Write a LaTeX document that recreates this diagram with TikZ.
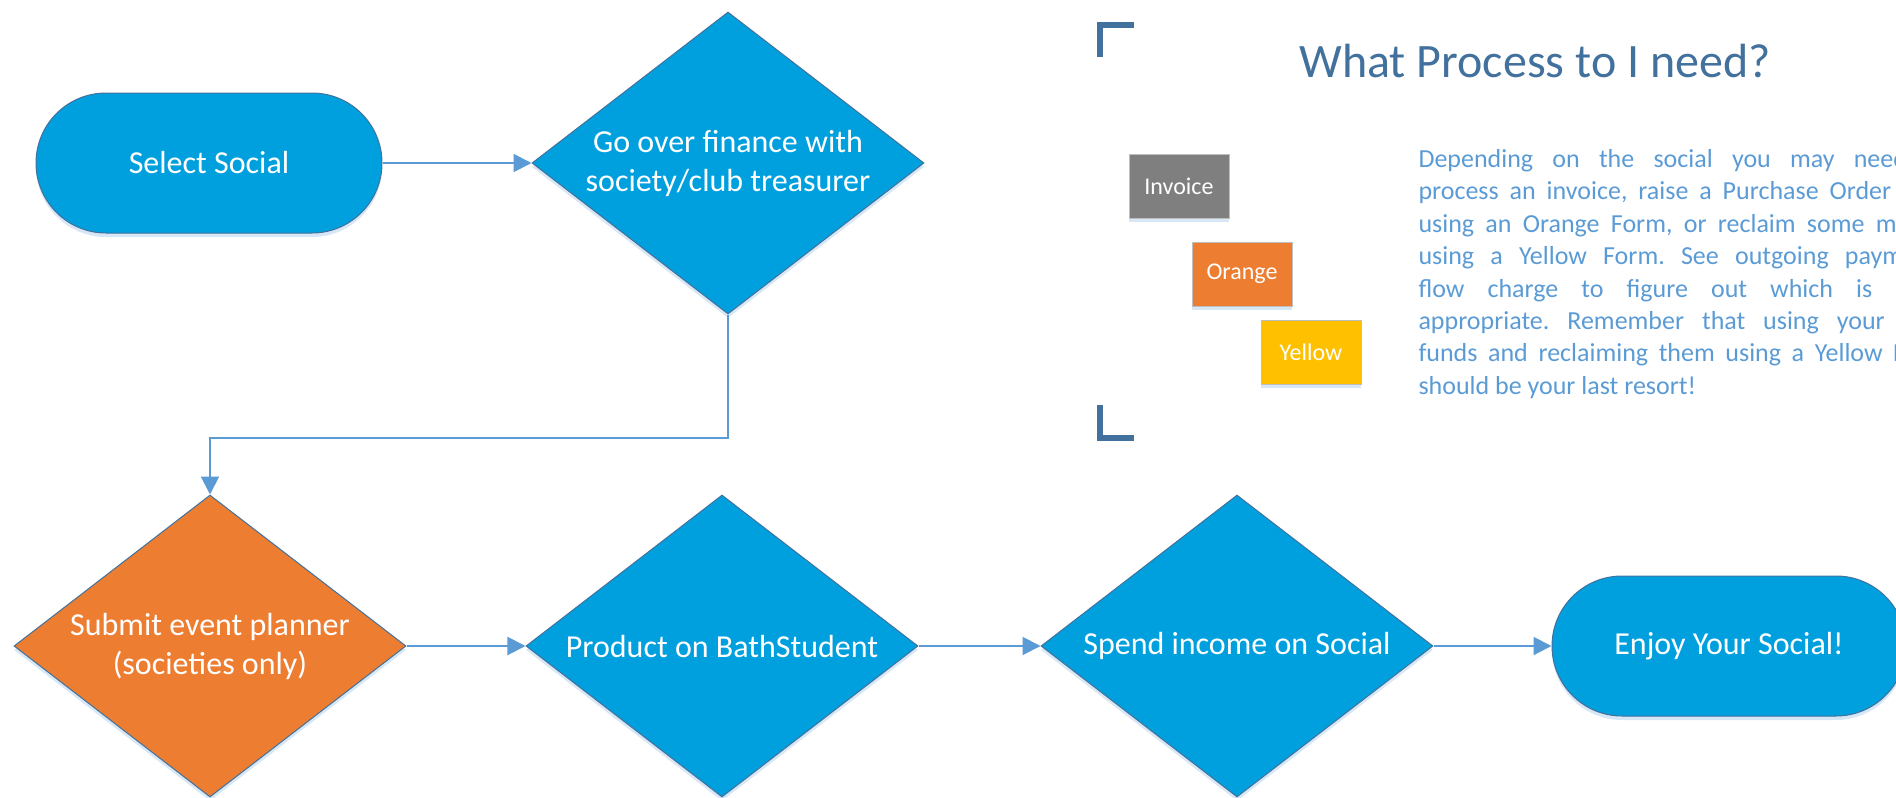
\documentclass[tikz,border=0pt]{standalone}
\usepackage{fontspec}
\setmainfont{Carlito}
\usepackage{tikz}
\usetikzlibrary{shapes.geometric, arrows.meta, shadows}
\frenchspacing

\definecolor{flowblue}{RGB}{0,160,222}
\definecolor{floworange}{RGB}{237,125,49}
\definecolor{edgeblue}{RGB}{65,113,156}
\definecolor{arrowblue}{RGB}{91,155,213}
\definecolor{keygray}{RGB}{127,127,127}
\definecolor{keyyellow}{RGB}{255,192,0}
\definecolor{glow}{RGB}{189,215,238}

\begin{document}
\begin{tikzpicture}[x=0.5pt, y=-0.5pt, line width=0.5pt,
    glowshadow/.style={drop shadow={shadow xshift=0pt, shadow yshift=-2pt, opacity=0.6, fill=glow}},
    terminal/.style={rectangle, rounded corners=35pt, minimum width=173pt, minimum height=70pt,
      fill=flowblue, draw=edgeblue, text=white, font=\fontsize{16}{19.5}\selectfont, glowshadow},
    decision/.style={diamond, aspect=1.3, inner sep=-15pt, minimum width=196pt, minimum height=151pt,
      fill=flowblue, draw=edgeblue, text=white, align=center, font=\fontsize{16}{19.5}\selectfont, glowshadow},
    flow/.style={draw=arrowblue, line width=1pt, -{Triangle[length=9pt, width=9pt]}},
    formkey/.style={rectangle, minimum width=50pt, minimum height=32pt, draw=black!25,
      text=white, font=\fontsize{12}{14}\selectfont, glowshadow},
    bracket/.style={draw=edgeblue, line width=3pt}]

    \useasboundingbox (0, 0) rectangle (1896, 798);

    % draw flow chart shapes
    \node[terminal] (select) at (209, 163) {Select Social};
    \node[decision] (finance) at (728, 163) {Go over finance with\\society/club treasurer};
    \node[decision, fill=floworange] (planner) at (210, 646) {Submit event planner\\(societies only)};
    \node[decision] (product) at (722, 646) {Product on BathStudent};
    \node[decision] (spend) at (1237, 646) {Spend income on Social};
    \node[terminal, minimum width=177pt] (enjoy) at (1729, 646) {Enjoy Your Social!};

    % draw connectors
    \coordinate (turn) at (210, 438);
    \draw[flow] (select) -- (finance);
    \draw[flow] (finance.south) |- (turn) -- (planner.north);
    \draw[flow] (planner) -- (product);
    \draw[flow] (product) -- (spend);
    \draw[flow] (spend) -- (enjoy);

    % draw corner brackets
    \draw[bracket] (1100, 57) -- (1100, 25) -- (1134, 25);
    \draw[bracket] (1100, 405) -- (1100, 438) -- (1134, 438);

    % draw form keys
    \node[formkey, fill=keygray] (invoice) at (1179, 186) {Invoice};
    \node[formkey, fill=floworange] (orangeform) at (1242, 274) {Orange};
    \node[formkey, fill=keyyellow] (yellowform) at (1311, 352) {Yellow};

    % draw title and note
    \node[anchor=base, text=edgeblue, font=\fontsize{24}{28}\selectfont] (title) at (1535, 77) {What Process to I need?};
    \node[anchor=north west, inner sep=0pt, align=left, text=arrowblue, font=\fontsize{13}{16.2}\selectfont] (note) at (1418, 149)
      {\makebox[265pt][s]{Depending on the social you may need to}\\
       \makebox[265pt][s]{process an invoice, raise a Purchase Order (PO)}\\
       \makebox[265pt][s]{using an Orange Form, or reclaim some money}\\
       \makebox[265pt][s]{using a Yellow Form. See outgoing payments}\\
       \makebox[265pt][s]{flow charge to figure out which is most}\\
       \makebox[265pt][s]{appropriate. Remember that using your own}\\
       \makebox[265pt][s]{funds and reclaiming them using a Yellow Form}\\
       should be your last resort!};

\end{tikzpicture}
\end{document}
